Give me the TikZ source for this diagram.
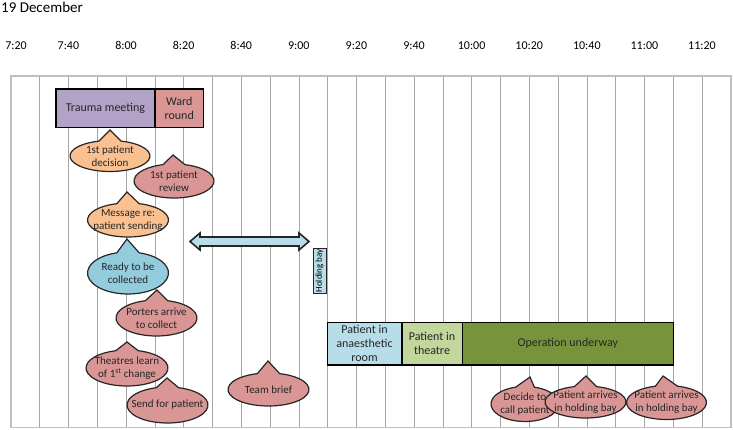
\documentclass[tikz,border=0pt]{standalone}
\usepackage{fontspec}
\setmainfont{Carlito}
\definecolor{lav}{HTML}{B3A2C7}
\definecolor{rose}{HTML}{D99694}
\definecolor{peach}{HTML}{FAC090}
\definecolor{sky}{HTML}{93CDDD}
\definecolor{pale}{HTML}{B7DDE8}
\definecolor{sage}{HTML}{C3D69B}
\definecolor{olive}{HTML}{77933C}
\definecolor{gridc}{HTML}{A6A6A6}
\definecolor{framec}{HTML}{BFBFBF}
\newcommand{\mycallout}[9]{%
  \filldraw[fill=#8, draw=black!85, line width=1.2pt]
    ({#2+#4*cos(-74)},{#3+#5*sin(-74)})
    arc[start angle=-74, end angle=254, x radius=#4, y radius=#5]
    -- (#6,#7) -- cycle;
  \node[ctext] (#1) at (#2,#3) {#9};
}
\begin{document}
\begin{tikzpicture}[x=1pt,y=-1pt,
  bar/.style={draw=black, line width=1.6pt, align=center, inner sep=0pt,
    font=\fontsize{12}{14}\selectfont, text=black!85},
  ctext/.style={align=center, inner sep=0pt, font=\fontsize{11}{13}\selectfont, text=black!85},
  tlabel/.style={anchor=base, inner sep=0pt, font=\fontsize{12}{14}\selectfont}]
\useasboundingbox (0,0) rectangle (733,430);

% title and time labels
\node[anchor=base west, inner sep=0pt, font=\fontsize{15}{18}\selectfont] (title) at (1,13) {19 December};
\node[tlabel] (t0) at (16,50) {7:20};
\foreach \t [count=\i] in {7:40,8:00,8:20,8:40,9:00,9:20,9:40,10:00,10:20,10:40,11:00,11:20}
  \node[tlabel] (t\i) at ({10.8+57.6*\i},50) {\t};

% grid
\foreach \k in {1,...,24}
  \draw[gridc, line width=0.9pt] ({11+28.8*\k},76) -- ({11+28.8*\k},427.5);
\draw[framec, line width=1.4pt] (11,76) rectangle (731,427.5);

% top bars
\node[bar, fill=lav, minimum width=99.3, minimum height=38.3] (trauma) at (105.4,108.2) {Trauma meeting};
\node[bar, fill=rose, minimum width=48.3, minimum height=38.3] (ward) at (179.2,108.2) {Ward\\round};

% double arrow
\filldraw[fill=pale, draw=black!85, line width=1.6pt]
  (190,241.5) -- (200,233) -- (200,237) -- (299,237) -- (299,233) -- (309,241.5)
  -- (299,250) -- (299,246) -- (200,246) -- (200,250) -- cycle;

% holding bay
\node[draw=black!85, line width=1pt, fill=pale, rotate=90, minimum width=45, minimum height=13,
  inner sep=0pt, font=\fontsize{9}{10}\selectfont] (hold) at (319.5,270.8) {Holding bay};

% bottom bars
\node[bar, fill=pale, minimum width=74.4, minimum height=42.7] (anaes) at (364.5,343.7) {Patient in\\anaesthetic\\room};
\node[bar, fill=sage, minimum width=60.6, minimum height=42.7] (theatre) at (432,343.7) {Patient in\\theatre};
\node[bar, fill=olive, minimum width=211, minimum height=42.7] (op) at (567.8,343.7) {Operation underway};

% callouts
\mycallout{c1}{110}{156}{40}{15.5}{110}{130}{peach}{1st patient\\decision}
\mycallout{c2}{174}{181}{40}{17}{173}{155}{rose}{1st patient\\review}
\mycallout{c3}{128}{220}{40.5}{17}{127}{192}{peach}{Message re:\\patient sending}
\mycallout{c4}{128}{273}{40.5}{21}{127}{239}{sky}{Ready to be\\collected}
\mycallout{c5}{156.5}{318}{40.5}{18}{157}{290}{rose}{Porters arrive\\to collect}
\mycallout{c6}{127}{368}{41}{18}{127}{342}{rose}{Theatres learn\\of 1\textsuperscript{st} change}
\mycallout{c7}{167.5}{405}{40.5}{18}{167}{378}{rose}{Send for patient}
\mycallout{c8}{268.5}{389.5}{40.5}{16.5}{268}{361}{rose}{Team brief}
\mycallout{c9}{525}{404}{34}{17.5}{530}{377}{rose}{Decide to\\call patient}
\mycallout{c10}{585.5}{402}{40.5}{16}{586}{376}{rose}{Patient arrives\\in holding bay}
\mycallout{c11}{666.5}{402.5}{40}{17}{663}{376}{rose}{Patient arrives\\in holding bay}
\end{tikzpicture}
\end{document}
